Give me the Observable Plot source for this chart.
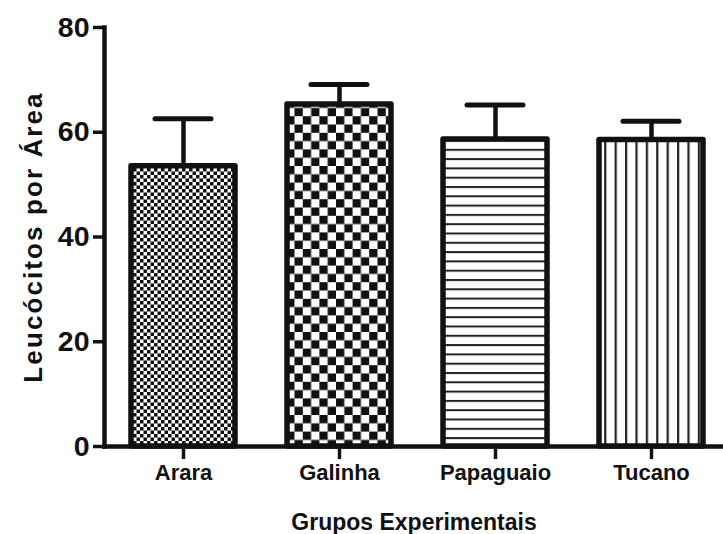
<!DOCTYPE html>
<html>
<head>
<meta charset="utf-8">
<script src="https://cdn.jsdelivr.net/npm/d3@7"></script>
<script src="https://cdn.jsdelivr.net/npm/@observablehq/plot@0.6"></script>
<style>
  html, body { margin: 0; padding: 0; background: #fff; }
  #chart svg { display: block; }
</style>
</head>
<body>
<div id="chart"></div>
<script>
const groups = ["Arara", "Galinha", "Papaguaio", "Tucano"];
const means = [53.5, 65.3, 58.6, 58.5];
const uppers = [62.6, 69.1, 65.2, 62.1];
const patterns = ["checkFine", "checkCoarse", "hLines", "vLines"];
const yTicks = [0, 20, 40, 60, 80];
const xTitle = "Grupos Experimentais";
const yTitle = "Leucócitos por Área";

const data = groups.map((g, i) => ({group: g, mean: means[i], upper: uppers[i], pat: `url(#${patterns[i]})`}));

const font = "'Liberation Sans', Arial, sans-serif";

const chart = Plot.plot({
  width: 723,
  height: 534,
  marginLeft: 104,
  marginRight: 0,
  marginTop: 27,
  marginBottom: 88,
  style: {fontFamily: font, color: "#111", background: "#fff"},
  x: {domain: groups, range: [104, 730], paddingInner: 0.336, paddingOuter: 0.166, axis: null},
  y: {domain: [0, 80], axis: null},
  color: {type: "identity"},
  marks: [
    Plot.ruleX(data, {x: "group", y1: "mean", y2: "upper", stroke: "#111", strokeWidth: 4.5}),
    Plot.tickY(data, {x: "group", y: "upper", insetLeft: 24, insetRight: 24, stroke: "#111", strokeWidth: 5, strokeLinecap: "round"}),
    Plot.barY(data, {x: "group", y: "mean", fill: "pat", stroke: "#111", strokeWidth: 5.5, strokeLinejoin: "round"}),
    Plot.axisY({ticks: yTicks, tickSize: 11, tickPadding: 4, strokeWidth: 3.5, fontSize: 28.5, fontWeight: "bold", label: null, tickFormat: d => String(d)}),
    Plot.axisX({tickSize: 13, tickPadding: 5, strokeWidth: 3.5, fontSize: 22, fontWeight: "bold", label: null}),
    Plot.frame({anchor: "left", strokeWidth: 4.5, stroke: "#111"}),
    Plot.frame({anchor: "bottom", strokeWidth: 4.5, stroke: "#111"}),
    Plot.text([xTitle], {frameAnchor: "bottom", dy: 83, fontSize: 23, fontWeight: "bold", letterSpacing: 0.6, x: null, text: d => d}),
  ]
});

// y axis title
const svg = d3.select(chart);
svg.append("text")
  .attr("transform", "translate(33,237) rotate(-90)")
  .attr("text-anchor", "middle")
  .attr("dominant-baseline", "central")
  .attr("font-family", font)
  .attr("font-weight", "bold")
  .attr("font-size", 26)
  .attr("letter-spacing", 2.1)
  .attr("fill", "#111")
  .text(yTitle);

// fill patterns
const defs = svg.insert("defs", ":first-child");
const pf = defs.append("pattern").attr("id", "checkFine").attr("patternUnits", "userSpaceOnUse").attr("width", 7).attr("height", 7);
pf.append("rect").attr("width", 7).attr("height", 7).attr("fill", "#fff");
pf.append("rect").attr("width", 3.5).attr("height", 3.5).attr("fill", "#111");
pf.append("rect").attr("x", 3.5).attr("y", 3.5).attr("width", 3.5).attr("height", 3.5).attr("fill", "#111");

const pc = defs.append("pattern").attr("id", "checkCoarse").attr("patternUnits", "userSpaceOnUse").attr("width", 16.6).attr("height", 16.6).attr("x", 4);
pc.append("rect").attr("width", 16.6).attr("height", 16.6).attr("fill", "#fff");
pc.append("rect").attr("width", 8.3).attr("height", 8.3).attr("fill", "#111");
pc.append("rect").attr("x", 8.3).attr("y", 8.3).attr("width", 8.3).attr("height", 8.3).attr("fill", "#111");

const ph = defs.append("pattern").attr("id", "hLines").attr("patternUnits", "userSpaceOnUse").attr("width", 10).attr("height", 9.3);
ph.append("rect").attr("width", 10).attr("height", 9.3).attr("fill", "#fff");
ph.append("rect").attr("y", 0).attr("width", 10).attr("height", 2).attr("fill", "#222");

const pv = defs.append("pattern").attr("id", "vLines").attr("patternUnits", "userSpaceOnUse").attr("width", 10.4).attr("height", 10).attr("x", 1);
pv.append("rect").attr("width", 10.4).attr("height", 10).attr("fill", "#fff");
pv.append("rect").attr("x", 0).attr("width", 2.2).attr("height", 10).attr("fill", "#222");

document.getElementById("chart").appendChild(chart);
</script>
</body>
</html>
